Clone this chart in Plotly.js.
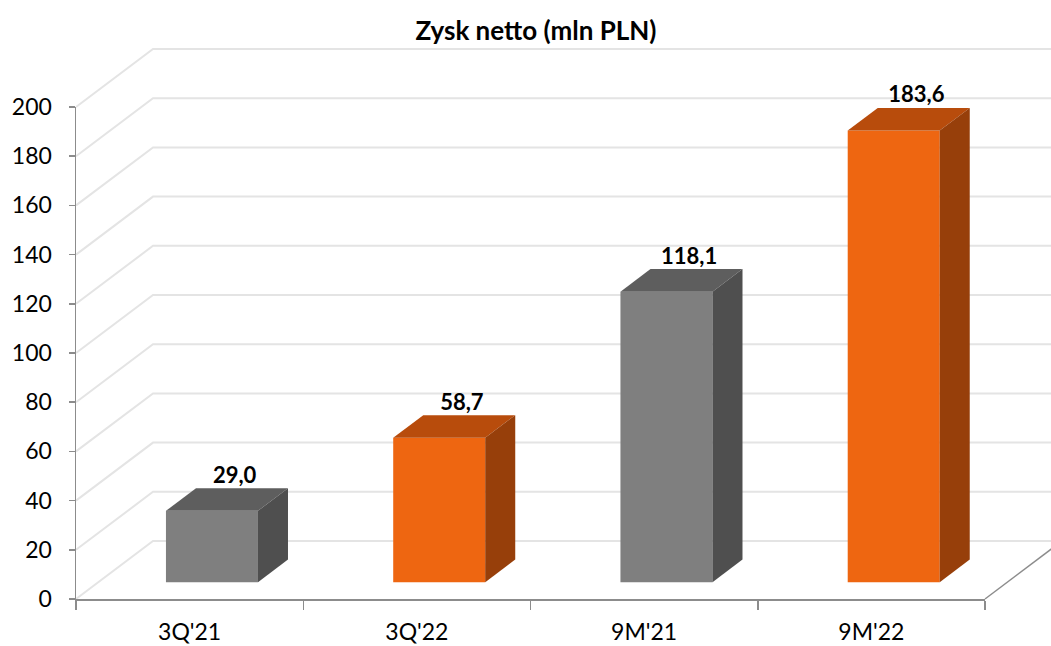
<!DOCTYPE html>
<html><head><meta charset="utf-8">
<script src="https://cdn.plot.ly/plotly-3.0.1.min.js"></script>
<style>html,body{margin:0;padding:0;background:#fff}#chart{width:1051px;height:646px}</style>
</head><body><div id="chart"></div>
<script>
// ---- data ----
const categories = ["3Q'21", "3Q'22", "9M'21", "9M'22"];
const values = [29.0, 58.7, 118.1, 183.6];
const yTicks = [0, 20, 40, 60, 80, 100, 120, 140, 160, 180, 200];
const chartTitle = 'Zysk netto (mln PLN)';

// ---- styles ----
const faceColors = ['#7f7f7f', '#ee6611', '#7f7f7f', '#ee6611'];
const topColors  = ['#5e5e5e', '#b84c0c', '#5e5e5e', '#b84c0c'];
const sideColors = ['#4f4f4f', '#973f0a', '#4f4f4f', '#973f0a'];
const FONT = 'Lato, "Open Sans", sans-serif';
const axisColor = '#8c8c8c';
const gridColor = '#e4e4e4';

// ---- geometry (pixels of the page) ----
const W = 1051, H = 646;
const fL = 76, fR = 985, fB = 599, fT = 107;       // front plot box
const xMin = -0.5, xMax = categories.length - 0.5, yMin = 0, yMax = 200;
const pxX = (fR - fL) / (xMax - xMin), pxY = (fB - fT) / (yMax - yMin);
const wallDX = 77 / pxX, wallDY = 58 / pxY;         // full depth offset in data units
const barF = 0.29, barDepth = 0.39;                 // bar position in depth
const barW = 92 / pxX;
const barShift = barF * wallDX, barBase = barF * wallDY;
const dDX = barDepth * wallDX, dDY = barDepth * wallDY;

// wall subplot box (bigger, same scale)
const wL = 60, wR = W, wB = 612, wT = 40;
const wallXRange = [xMin - (fL - wL) / pxX, xMin + (wR - fL) / pxX];
const wallYRange = [yMin - (wB - fB) / pxY, yMax + (fT - wT) / pxY];

const traces = [];

// grid lines on left wall and back wall
const gx = [], gy = [];
yTicks.forEach(t => {
  gx.push(xMin, xMin + wallDX, xMax + wallDX, null);
  gy.push(t, t + wallDY, t + wallDY, null);
});
traces.push({type:'scatter', mode:'lines', x:gx, y:gy, xaxis:'x', yaxis:'y',
  line:{color:gridColor, width:2}, hoverinfo:'skip', showlegend:false});
// floor right edge
traces.push({type:'scatter', mode:'lines', x:[xMax, xMax + wallDX], y:[yMin, yMin + wallDY],
  xaxis:'x', yaxis:'y', line:{color:axisColor, width:1.5}, hoverinfo:'skip', showlegend:false});

// bars (front faces)
traces.push({type:'bar', x:categories.map((c,i)=>i), y:values, base:barBase,
  width:barW, offset:barShift - barW/2, xaxis:'x2', yaxis:'y2',
  marker:{color:faceColors, line:{width:0}}, hoverinfo:'skip', showlegend:false});

// top and side faces
values.forEach((v, i) => {
  const x0 = i + barShift - barW/2, x1 = i + barShift + barW/2;
  const yt = barBase + v;
  traces.push({type:'scatter', mode:'lines', fill:'toself', fillcolor:topColors[i],
    x:[x0, x1, x1 + dDX, x0 + dDX, x0], y:[yt, yt, yt + dDY, yt + dDY, yt],
    line:{width:0, color:topColors[i]}, xaxis:'x2', yaxis:'y2', hoverinfo:'skip', showlegend:false});
  traces.push({type:'scatter', mode:'lines', fill:'toself', fillcolor:sideColors[i],
    x:[x1, x1, x1 + dDX, x1 + dDX, x1], y:[barBase, yt, yt + dDY, barBase + dDY, barBase],
    line:{width:0, color:sideColors[i]}, xaxis:'x2', yaxis:'y2', hoverinfo:'skip', showlegend:false});
});

// value labels
traces.push({type:'scatter', mode:'text',
  x:values.map((v,i)=> i + barShift + 0.1),
  y:values.map(v => barBase + v + dDY),
  text:values.map(v => v.toFixed(1).replace('.', ',')),
  textposition:'top center', cliponaxis:false,
  textfont:{family:FONT, size:22, color:'#000', weight:'bold'},
  xaxis:'x2', yaxis:'y2', hoverinfo:'skip', showlegend:false});

const layout = {
  width:W, height:H, autosize:false,
  margin:{l:0, r:0, t:0, b:0},
  paper_bgcolor:'#fff', plot_bgcolor:'rgba(0,0,0,0)',
  showlegend:false,
  title:{text:chartTitle, x:536/W, xanchor:'center', xref:'container',
    y:1 - 31/H, yanchor:'middle', yref:'container',
    font:{family:FONT, size:26, color:'#000', weight:'bold'}},
  xaxis:{domain:[wL/W, wR/W], range:wallXRange, anchor:'y', visible:false, fixedrange:true},
  yaxis:{domain:[1 - wB/H, 1 - wT/H], range:wallYRange, anchor:'x', visible:false, fixedrange:true},
  xaxis2:{domain:[fL/W, fR/W], range:[xMin, xMax], anchor:'y2',
    showline:true, linecolor:axisColor, linewidth:1.5, showgrid:false, zeroline:false,
    tickmode:'array', tickvals:categories.map((c,i)=>i), ticktext:categories, ticks:'',
    minor:{tickmode:'array', tickvals:categories.map((c,i)=>i - 0.5).concat([xMax]),
      ticks:'outside', ticklen:9, tickcolor:axisColor, tickwidth:1.5, showgrid:false},
    tickfont:{family:FONT, size:23, color:'#000'}, ticklabelstandoff:12, fixedrange:true},
  yaxis2:{domain:[1 - fB/H, 1 - fT/H], range:[yMin, yMax], anchor:'x2',
    showline:true, linecolor:axisColor, linewidth:1.5, showgrid:false, zeroline:false,
    tickmode:'array', tickvals:yTicks, ticks:'outside', ticklen:6, tickcolor:axisColor, tickwidth:1.5,
    tickfont:{family:FONT, size:23, color:'#000'}, ticklabelstandoff:12, fixedrange:true}
};

Plotly.newPlot('chart', traces, layout, {staticPlot:true, displayModeBar:false});
</script></body></html>
